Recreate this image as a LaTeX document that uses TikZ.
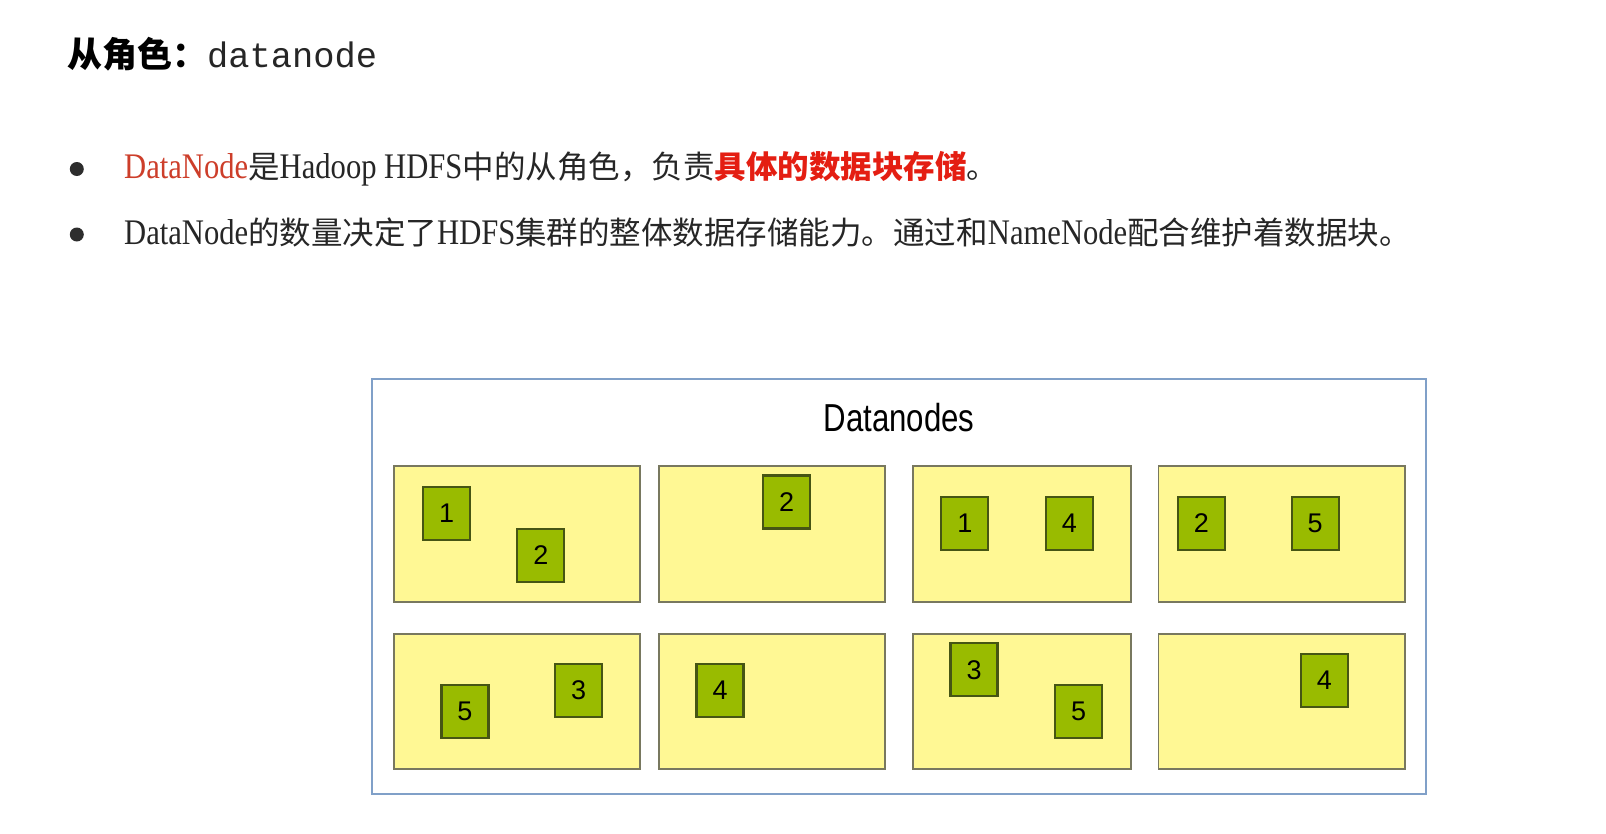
\documentclass[tikz,border=0pt]{standalone}
\usepackage{fontspec}
\setmainfont{Liberation Serif}[FakeStretch=0.85]
\setsansfont{Liberation Sans}
\setmonofont{Liberation Mono}
\newfontfamily\cjk{Noto Sans CJK SC}
\newfontfamily\labelfont{Liberation Sans}[FakeStretch=0.8]
\newcommand\zh[1]{{\cjk\fontsize{31.5}{36}\selectfont #1}}

\definecolor{textgray}{RGB}{38,38,38}
\definecolor{dnred}{RGB}{205,62,42}
\definecolor{hired}{RGB}{228,30,18}
\definecolor{dotgray}{RGB}{45,45,45}
\definecolor{clusteredge}{RGB}{128,160,200}
\definecolor{hostyellow}{RGB}{255,248,148}
\definecolor{hostedge}{RGB}{120,120,95}
\definecolor{blockgreen}{RGB}{153,187,0}
\definecolor{blockedge}{RGB}{70,85,20}

\begin{document}
\begin{tikzpicture}
[every node/.style={inner sep=0pt},
 hostbox/.style={rectangle, fill=hostyellow, draw=hostedge, line width=1.8pt},
 blockbox/.style={rectangle, minimum width=47pt, minimum height=53pt, fill=blockgreen, draw=blockedge, line width=2.2pt, font=\sffamily\fontsize{27}{30}\selectfont, text=black},
 bulletdot/.style={circle, minimum size=14pt, fill=dotgray},
 bullettext/.style={anchor=base west, text=textgray, font=\fontsize{36}{40}\selectfont}]
\useasboundingbox (0pt,0pt) rectangle (1606pt,-833pt);
\fill [white] (0pt,0pt) rectangle (1606pt,-833pt);

% heading and bullet lines
\node (role) [anchor=base west] at (67pt, -67pt) {{\cjk\bfseries\fontsize{35}{40}\selectfont 从角色：}{\ttfamily\fontsize{35.4}{40}\selectfont\color{textgray}datanode}};
\node (dot1) [bulletdot] at (76.8pt, -169pt) {};
\node (line1) [bullettext] at (124pt, -178pt) {\textcolor{dnred}{DataNode}\zh{是}Hadoop HDFS\zh{中的从角色，负责}\textcolor{hired}{\zh{\bfseries 具体的数据块存储}}\zh{。}};
\node (dot2) [bulletdot] at (76.8pt, -234.5pt) {};
\node (line2) [bullettext] at (124pt, -244pt) {DataNode\zh{的数量决定了}HDFS\zh{集群的整体数据存储能力。通过和}NameNode\zh{配合维护着数据块。}};

% cluster frame
\node (cluster) [rectangle, minimum width=1054pt, minimum height=415pt, draw=clusteredge, line width=1.8pt] at (898.75pt, -586.4pt) {};
\node (clustername) [font=\labelfont\fontsize{39}{44}\selectfont] at (899pt, -418pt) {Datanodes};

% datanode hosts
\node (host11) [hostbox, minimum width=245.8pt, minimum height=136.2pt] at (517.2pt, -534.1pt) {};
\node (host12) [hostbox, minimum width=226.3pt, minimum height=136.2pt] at (771.75pt, -534.1pt) {};
\node (host13) [hostbox, minimum width=218.1pt, minimum height=136.2pt] at (1021.65pt, -534.1pt) {};
\node (host14) [hostbox, minimum width=246.8pt, minimum height=136.2pt] at (1281.8pt, -534.1pt) {};
\node (host21) [hostbox, minimum width=245.8pt, minimum height=135.2pt] at (517.2pt, -701.6pt) {};
\node (host22) [hostbox, minimum width=226.3pt, minimum height=135.2pt] at (771.75pt, -701.6pt) {};
\node (host23) [hostbox, minimum width=218.1pt, minimum height=135.2pt] at (1021.65pt, -701.6pt) {};
\node (host24) [hostbox, minimum width=246.8pt, minimum height=135.2pt] at (1281.8pt, -701.6pt) {};

% stored blocks
\node (blk11a) [blockbox] at (446.6pt, -513.1pt) {1};
\node (blk11b) [blockbox] at (540.8pt, -555.1pt) {2};
\node (blk12a) [blockbox] at (786.6pt, -501.9pt) {2};
\node (blk13a) [blockbox] at (964.8pt, -523.4pt) {1};
\node (blk13b) [blockbox] at (1069.3pt, -523.4pt) {4};
\node (blk14a) [blockbox] at (1201.4pt, -523.4pt) {2};
\node (blk14b) [blockbox] at (1315.1pt, -523.4pt) {5};
\node (blk21a) [blockbox] at (465pt, -711.8pt) {5};
\node (blk21b) [blockbox] at (578.7pt, -690.3pt) {3};
\node (blk22a) [blockbox] at (720pt, -690.3pt) {4};
\node (blk23a) [blockbox] at (974pt, -669.8pt) {3};
\node (blk23b) [blockbox] at (1078.5pt, -711.8pt) {5};
\node (blk24a) [blockbox] at (1324.3pt, -680.1pt) {4};
\end{tikzpicture}
\end{document}
